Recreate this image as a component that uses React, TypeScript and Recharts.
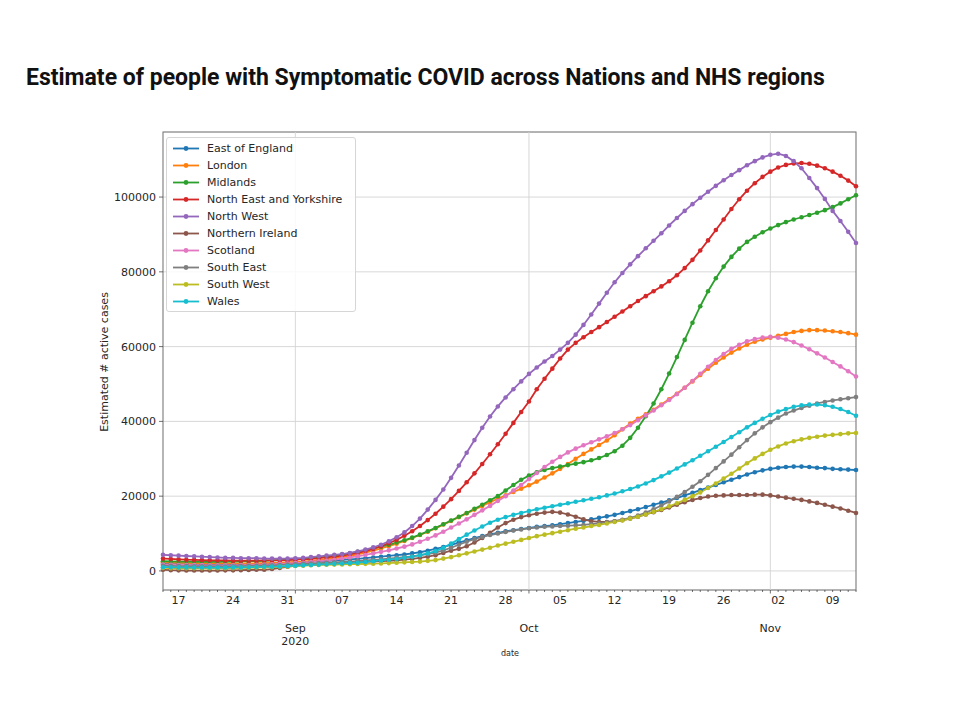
import { LineChart, Line, XAxis, YAxis, CartesianGrid, ReferenceLine, ReferenceArea, Legend } from 'recharts';

// one value per day, 15 Aug 2020 (day 0) to 12 Nov 2020 (day 89)
const days = Array.from({ length: 90 }, (_, i) => i);

const weekTicks = [2, 9, 16, 23, 30, 37, 44, 51, 58, 65, 72, 79, 86];
const weekLabels = ['17', '24', '31', '07', '14', '21', '28', '05', '12', '19', '26', '02', '09'];
const monthTicks = [17, 47, 78];
const monthLabels = [['Sep', '2020'], ['Oct'], ['Nov']];
const yTicks = [0, 20000, 40000, 60000, 80000, 100000];

const eastOfEngland = [
  1900, 1850, 1800, 1800, 1750, 1700, 1700, 1700, 1700, 1700,
  1750, 1800, 1850, 1900, 2000, 2100, 2200, 2300, 2400, 2500,
  2600, 2700, 2800, 2950, 3100, 3250, 3400, 3600, 3800, 4000,
  4200, 4400, 4700, 5000, 5400, 5900, 6400, 7000, 7600, 8200,
  8800, 9300, 9800, 10200, 10600, 10900, 11200, 11500, 11800, 12000,
  12200, 12500, 12800, 13100, 13400, 13800, 14200, 14600, 15000, 15500,
  16000, 16500, 17100, 17700, 18300, 18900, 19500, 20200, 20900, 21600,
  22300, 23000, 23700, 24400, 25100, 25800, 26400, 26900, 27300, 27600,
  27800, 27900, 27900, 27800, 27600, 27500, 27300, 27200, 27100, 27000,
];
const london = [
  2300, 2250, 2200, 2150, 2100, 2100, 2050, 2050, 2000, 2000,
  2000, 2000, 2050, 2100, 2150, 2200, 2300, 2400, 2500, 2700,
  2900, 3100, 3400, 3700, 4000, 4400, 4900, 5400, 6000, 6600,
  7300, 8000, 8800, 9600, 10500, 11400, 12400, 13400, 14400, 15400,
  16400, 17400, 18400, 19300, 20200, 21100, 22000, 22900, 23900, 25000,
  26100, 27300, 28600, 30000, 31300, 32500, 33700, 34900, 36300, 37900,
  39400, 40700, 41900, 43100, 44500, 45900, 47400, 49000, 50700, 52400,
  54100, 55700, 57100, 58400, 59500, 60500, 61300, 61900, 62400, 62900,
  63400, 63900, 64200, 64400, 64400, 64300, 64100, 63900, 63600, 63200,
];
const midlands = [
  2600, 2550, 2500, 2500, 2450, 2450, 2450, 2450, 2500, 2500,
  2550, 2600, 2650, 2700, 2800, 2900, 3000, 3100, 3200, 3400,
  3600, 3800, 4100, 4400, 4700, 5100, 5500, 6000, 6500, 7000,
  7600, 8200, 8900, 9700, 10600, 11500, 12500, 13500, 14500, 15500,
  16600, 17700, 18900, 20000, 21500, 23000, 24400, 25500, 26400, 27000,
  27500, 27900, 28300, 28700, 29100, 29600, 30200, 31000, 32000, 33500,
  35600, 38300, 41400, 44800, 48600, 52800, 57200, 61800, 66400, 70800,
  74800, 78300, 81400, 84000, 86200, 88000, 89400, 90600, 91600, 92500,
  93300, 94000, 94600, 95200, 95800, 96500, 97300, 98300, 99400, 100500,
];
const northEastYorkshire = [
  3300, 3200, 3100, 3000, 2950, 2900, 2850, 2800, 2800, 2750,
  2750, 2750, 2750, 2800, 2800, 2850, 2900, 3000, 3100, 3200,
  3400, 3600, 3800, 4100, 4400, 4800, 5300, 5900, 6600, 7400,
  8300, 9400, 10600, 12000, 13600, 15300, 17200, 19200, 21400, 23700,
  26100, 28600, 31200, 33900, 36700, 39600, 42500, 45300, 48600, 51400,
  54100, 56800, 59200, 61000, 62500, 63900, 65200, 66600, 68000, 69400,
  70800, 72200, 73500, 74800, 76100, 77500, 79100, 81000, 83200, 85700,
  88400, 91200, 94000, 96800, 99400, 101700, 103700, 105400, 106800, 107900,
  108600, 109000, 109100, 108900, 108400, 107700, 106800, 105700, 104400, 102900,
];
const northWest = [
  4300, 4200, 4100, 4000, 3900, 3800, 3700, 3600, 3500, 3500,
  3400, 3400, 3400, 3300, 3300, 3300, 3300, 3400, 3500, 3700,
  3900, 4100, 4300, 4500, 4800, 5200, 5700, 6300, 7000, 7900,
  9000, 10300, 12000, 14000, 16400, 19000, 21800, 24900, 28200, 31600,
  35000, 38300, 41300, 44000, 46400, 48600, 50700, 52700, 54400, 56000,
  57500, 59200, 61000, 63200, 65800, 68600, 71500, 74400, 77200, 79700,
  82000, 84200, 86300, 88300, 90300, 92400, 94400, 96300, 98100, 99800,
  101400, 103000, 104500, 105900, 107200, 108500, 109600, 110600, 111300, 111600,
  111000, 109600, 107700, 105100, 102400, 99500, 96300, 93600, 90700, 87700,
];
const northernIreland = [
  300, 200, 150, 100, 100, 100, 100, 100, 150, 150,
  200, 250, 300, 300, 500, 800, 1100, 1400, 1600, 1700,
  1800, 1900, 2000, 2100, 2200, 2300, 2400, 2500, 2600, 2700,
  2800, 3000, 3200, 3500, 3800, 4200, 4800, 5400, 5900, 6600,
  7600, 8800, 10200, 11600, 12800, 13700, 14400, 14900, 15300, 15600,
  15800, 15600, 15100, 14500, 13800, 13300, 13100, 13100, 13300, 13600,
  14000, 14500, 15100, 15700, 16300, 17000, 17700, 18400, 19000, 19500,
  19900, 20100, 20200, 20300, 20300, 20300, 20400, 20400, 20200, 19900,
  19600, 19300, 19000, 18600, 18200, 17700, 17200, 16700, 16100, 15500,
];
const scotland = [
  1700, 1650, 1600, 1600, 1550, 1550, 1500, 1500, 1500, 1500,
  1550, 1600, 1650, 1700, 1800, 1900, 2000, 2100, 2200, 2400,
  2600, 2800, 3000, 3300, 3600, 3900, 4300, 4700, 5100, 5500,
  6000, 6500, 7100, 7800, 8600, 9500, 10500, 11600, 12700, 13800,
  15000, 16200, 17400, 18700, 20000, 21500, 23000, 24600, 26200, 27800,
  29200, 30500, 31700, 32700, 33600, 34400, 35200, 36000, 36900, 37900,
  39000, 40300, 41600, 42900, 44300, 45700, 47300, 49000, 50800, 52700,
  54600, 56400, 58000, 59400, 60500, 61400, 62000, 62400, 62600, 62400,
  61900, 61200, 60300, 59300, 58200, 57100, 55900, 54700, 53400, 52000,
];
const southEast = [
  1400, 1350, 1300, 1300, 1250, 1250, 1200, 1200, 1200, 1250,
  1300, 1350, 1400, 1450, 1500, 1600, 1700, 1800, 1900, 2000,
  2100, 2200, 2300, 2400, 2500, 2650, 2800, 2950, 3100, 3300,
  3500, 3700, 3900, 4200, 4500, 4900, 5500, 6200, 7000, 7800,
  8500, 9100, 9600, 10000, 10400, 10800, 11100, 11400, 11600, 11800,
  11900, 12000, 12100, 12200, 12300, 12500, 12700, 13000, 13300, 13700,
  14200, 14800, 15600, 16500, 17500, 18600, 19800, 21100, 22500, 24000,
  25700, 27500, 29300, 31100, 33100, 35000, 36800, 38400, 39800, 41000,
  42100, 42900, 43600, 44200, 44800, 45200, 45600, 45900, 46200, 46500,
];
const southWest = [
  800, 750, 700, 700, 700, 700, 700, 700, 750, 750,
  800, 850, 900, 950, 1000, 1100, 1200, 1300, 1400, 1500,
  1600, 1650, 1700, 1750, 1800, 1850, 1900, 1950, 2000, 2100,
  2200, 2300, 2400, 2500, 2700, 2900, 3300, 3700, 4200, 4700,
  5200, 5700, 6200, 6800, 7300, 7800, 8300, 8800, 9300, 9700,
  10100, 10500, 10900, 11300, 11600, 12000, 12300, 12700, 13100, 13500,
  14000, 14500, 15100, 15800, 16500, 17300, 18100, 19000, 20000, 21000,
  22200, 23400, 24700, 26000, 27400, 28800, 30100, 31300, 32400, 33300,
  34100, 34700, 35200, 35600, 35900, 36200, 36400, 36600, 36800, 36900,
];
const wales = [
  1000, 1000, 950, 950, 900, 900, 900, 900, 900, 950,
  950, 1000, 1050, 1100, 1150, 1200, 1300, 1400, 1500, 1600,
  1700, 1800, 1900, 2000, 2100, 2200, 2400, 2600, 2800, 3000,
  3200, 3500, 3800, 4200, 4700, 5300, 6200, 7300, 8500, 9700,
  10800, 11900, 12900, 13700, 14400, 15000, 15500, 16000, 16500, 16900,
  17300, 17700, 18100, 18500, 18900, 19300, 19700, 20200, 20700, 21300,
  21900, 22600, 23400, 24300, 25300, 26300, 27400, 28500, 29600, 30800,
  32000, 33200, 34500, 35800, 37100, 38400, 39600, 40700, 41700, 42600,
  43300, 43900, 44300, 44500, 44500, 44300, 43900, 43300, 42500, 41500,
];

const series = [
  { name: 'East of England', values: eastOfEngland, color: '#1f77b4' },
  { name: 'London', values: london, color: '#ff7f0e' },
  { name: 'Midlands', values: midlands, color: '#2ca02c' },
  { name: 'North East and Yorkshire', values: northEastYorkshire, color: '#d62728' },
  { name: 'North West', values: northWest, color: '#9467bd' },
  { name: 'Northern Ireland', values: northernIreland, color: '#8c564b' },
  { name: 'Scotland', values: scotland, color: '#e377c2' },
  { name: 'South East', values: southEast, color: '#7f7f7f' },
  { name: 'South West', values: southWest, color: '#bcbd22' },
  { name: 'Wales', values: wales, color: '#17becf' },
];

const data = days.map((day, i) => {
  const row: Record<string, number> = { day };
  series.forEach((s) => { row[s.name] = s.values[i]; });
  return row;
});

const FONT = '"DejaVu Sans", sans-serif';
const Y_MIN = -5100;
const Y_MAX = 117400;

function DateTick(props: any) {
  const { x, y, payload } = props;
  const d = payload.value;
  const wi = weekTicks.indexOf(d);
  const mi = monthTicks.indexOf(d);
  return (
    <g>
      <line x1={x} x2={x} y1={y} y2={y + (mi >= 0 ? 3.5 : 2)} stroke="#333" strokeWidth={0.7} />
      {wi >= 0 && (
        <text x={x} y={y + 14} textAnchor="middle" fontSize={11} fontFamily={FONT} fill="#262626">
          {weekLabels[wi]}
        </text>
      )}
      {mi >= 0 &&
        monthLabels[mi].map((s, k) => (
          <text key={s} x={x} y={y + 42 + k * 13} textAnchor="middle" fontSize={11} fontFamily={FONT} fill="#262626">
            {s}
          </text>
        ))}
    </g>
  );
}

function LegendBox(props: any) {
  const items = props.payload || [];
  return (
    <div
      style={{
        background: 'rgba(255,255,255,0.85)',
        border: '1px solid #d6d6d6',
        borderRadius: 3,
        padding: '2px 0 1px 0',
        fontFamily: FONT,
        fontSize: 11,
        color: '#262626',
      }}
    >
      {items.map((it: any) => (
        <div key={it.value} style={{ display: 'flex', alignItems: 'center', height: 17 }}>
          <svg width={40} height={17} style={{ flex: 'none' }}>
            <line x1={6} x2={32} y1={8.5} y2={8.5} stroke={it.color} strokeWidth={1.8} />
            <circle cx={19} cy={8.5} r={2.4} fill={it.color} />
          </svg>
          <span style={{ whiteSpace: 'nowrap' }}>{it.value}</span>
        </div>
      ))}
    </div>
  );
}

export default function App() {
  return (
    <div style={{ position: 'absolute', left: 0, top: 0, width: 960, height: 706, background: '#fff' }}>
      <div
        style={{
          position: 'absolute',
          left: 26,
          top: 64,
          fontFamily: 'Roboto, "Noto Sans", sans-serif',
          fontWeight: 700,
          fontSize: 23,
          lineHeight: '27px',
          color: '#111',
          whiteSpace: 'nowrap',
        }}
      >
        Estimate of people with Symptomatic COVID across Nations and NHS regions
      </div>
      <LineChart width={960} height={706} data={data} margin={{ top: 132, right: 104, bottom: 46, left: 103 }}>
        <CartesianGrid vertical={false} stroke="#d4d4d4" strokeWidth={0.9} />
        {monthTicks.map((m) => (
          <ReferenceLine key={m} x={m} stroke="#d4d4d4" strokeWidth={0.9} />
        ))}
        <XAxis
          dataKey="day"
          type="number"
          domain={[0, 89]}
          ticks={days}
          interval={0}
          tick={<DateTick />}
          tickLine={false}
          tickSize={0}
          tickMargin={0}
          axisLine={false}
          height={70}
        />
        <YAxis
          type="number"
          domain={[Y_MIN, Y_MAX]}
          allowDataOverflow
          ticks={yTicks}
          width={60}
          tickSize={4}
          tickMargin={3}
          axisLine={false}
          tickLine={{ stroke: '#333', strokeWidth: 0.7 }}
          tick={{ fontSize: 11, fontFamily: FONT, fill: '#262626' }}
        />
        <ReferenceArea x1={0} x2={89} y1={Y_MIN} y2={Y_MAX} fill="none" stroke="#7a7a7a" strokeWidth={1.1} />
        <Legend
          layout="horizontal"
          verticalAlign="middle"
          content={<LegendBox />}
          wrapperStyle={{ left: 166, top: 137, width: 190, height: 'auto' }}
        />
        {series.map((s) => (
          <Line
            key={s.name}
            dataKey={s.name}
            stroke={s.color}
            strokeWidth={1.8}
            dot={{ r: 2.3, fill: s.color, stroke: s.color, strokeWidth: 0 }}
            activeDot={false}
            isAnimationActive={false}
            type="linear"
          />
        ))}
      </LineChart>
      <div
        style={{
          position: 'absolute',
          left: 104,
          top: 362,
          transform: 'translate(-50%, -50%) rotate(-90deg)',
          fontFamily: FONT,
          fontSize: 11,
          color: '#262626',
          whiteSpace: 'nowrap',
        }}
      >
        Estimated # active cases
      </div>
      <div
        style={{
          position: 'absolute',
          left: 510,
          top: 653,
          transform: 'translate(-50%, -50%)',
          fontFamily: FONT,
          fontSize: 8,
          color: '#262626',
        }}
      >
        date
      </div>
    </div>
  );
}
